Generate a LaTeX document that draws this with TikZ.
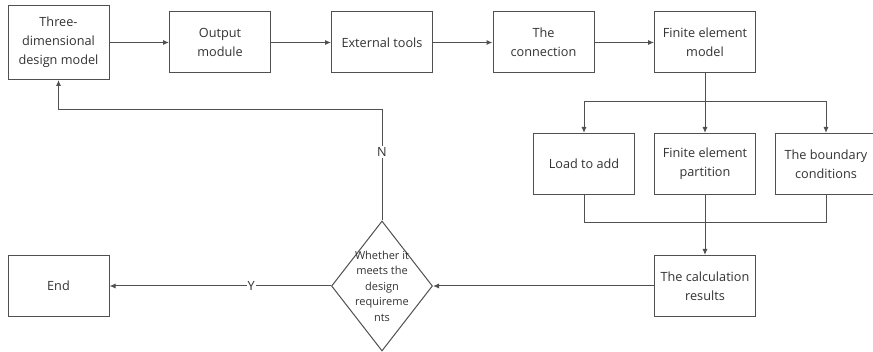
\documentclass[tikz,border=0pt]{standalone}
\usepackage{fontspec}
\setmainfont{Open Sans}
\usetikzlibrary{arrows.meta,shapes.geometric}
\definecolor{linegray}{HTML}{505050}
\definecolor{textgray}{HTML}{333333}
\tikzset{
  box/.style={draw=linegray, line width=1pt, minimum width=101pt, minimum height=61pt,
    align=center, text=textgray, font=\fontsize{12.7}{19}\selectfont, inner sep=1pt},
  decision/.style={draw=linegray, line width=1pt, shape=diamond, minimum width=101pt,
    minimum height=130pt, inner sep=0pt},
  flow/.style={draw=linegray, line width=1pt, -{Latex[length=6pt,width=5pt]}},
  link/.style={draw=linegray, line width=1pt},
  tag/.style={fill=white, text=textgray, inner sep=1pt, font=\fontsize{12.7}{14}\selectfont}
}
\begin{document}
\begin{tikzpicture}[x=1pt,y=-1pt]
        \useasboundingbox[fill=white] (0,0) rectangle (873,352);
        % Top row
        \node[box, minimum height=74pt] (model) at (58.5,42.5) {Three-\\dimensional\\design model};
        \node[box] (output) at (220,42.5) {Output\\module};
        \node[box] (tools) at (382,42.5) {External tools};
        \node[box] (connect) at (543.5,42.5) {The\\connection};
        \node[box] (femodel) at (705,42.5) {Finite element\\model};
        % Middle row
        \node[box] (load) at (584,164) {Load to add};
        \node[box] (partition) at (705,164) {Finite element\\partition};
        \node[box] (boundary) at (826,164) {The boundary\\conditions};
        % Bottom row
        \node[box] (calc) at (705,286) {The calculation\\results};
        \node[decision] (check) at (382,286) {};
        \node[align=center, text=textgray, font=\fontsize{11}{15.5}\selectfont] (checktext) at (check) {Whether it\\meets the\\design\\requireme\\nts};
        \node[box] (end) at (58.5,286) {End};
        \coordinate (split) at (705,101.5);
        \coordinate (merge) at (705,223);
        \coordinate (back) at (382,110);
        % Connectors
        \draw[flow] (model) -- (output);
        \draw[flow] (output) -- (tools);
        \draw[flow] (tools) -- (connect);
        \draw[flow] (connect) -- (femodel);
        \draw[link] (femodel) -- (split);
        \draw[flow] (split) -| (load);
        \draw[flow] (split) -- (partition);
        \draw[flow] (split) -| (boundary);
        \draw[link] (load) |- (merge);
        \draw[link] (boundary) |- (merge);
        \draw[flow] (partition) -- (calc);
        \draw[flow] (calc) -- (check);
        \draw[flow] (check) -- node[tag, pos=0.36] (yes) {Y} (end);
        \draw[flow] (check) -- node[tag, pos=0.62] (no) {N} (back) -| (model);
\end{tikzpicture}
\end{document}
